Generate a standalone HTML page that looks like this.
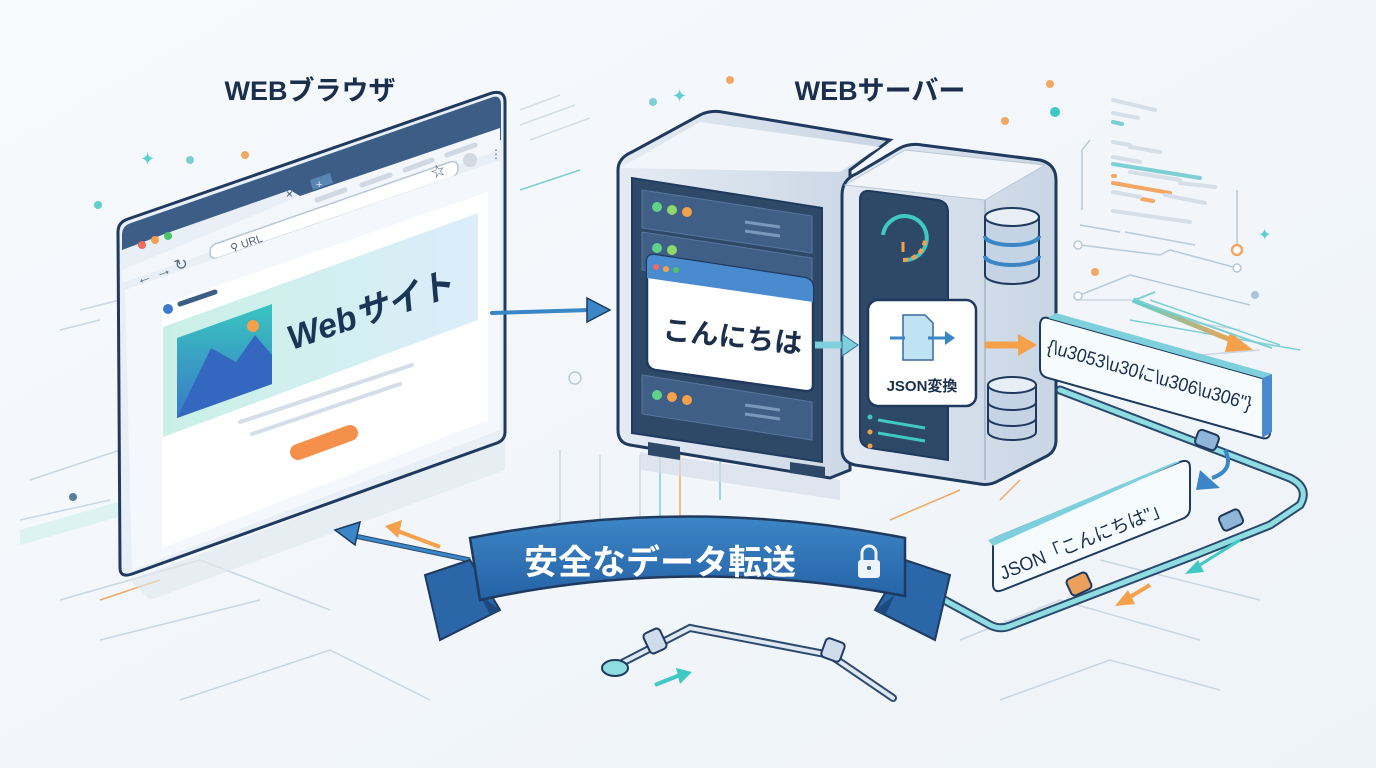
<!DOCTYPE html>
<html><head><meta charset="utf-8"><style>
html,body{margin:0;padding:0;background:#f3f7fb;}
svg{display:block}
text{font-family:"Liberation Sans","Noto Sans CJK JP",sans-serif;}
</style></head><body>
<svg width="1376" height="768" viewBox="0 0 1376 768" xmlns="http://www.w3.org/2000/svg">
<defs>
<linearGradient id="bg" x1="0" y1="0" x2="1" y2="1"><stop offset="0" stop-color="#f7fafd"/><stop offset="1" stop-color="#eef3f8"/></linearGradient>
<linearGradient id="ban" x1="0" y1="0" x2="1" y2="0"><stop offset="0" stop-color="#c9f0e6"/><stop offset="1" stop-color="#dbeefa"/></linearGradient>
<linearGradient id="img" x1="0" y1="0" x2="0" y2="1"><stop offset="0" stop-color="#39c6c0"/><stop offset="1" stop-color="#3a78c8"/></linearGradient>
<linearGradient id="rib" x1="0" y1="0" x2="0" y2="1"><stop offset="0" stop-color="#3d86c6"/><stop offset="1" stop-color="#2462a6"/></linearGradient>
<linearGradient id="case" x1="0" y1="0" x2="1" y2="0"><stop offset="0" stop-color="#e4ebf3"/><stop offset="1" stop-color="#c8d5e4"/></linearGradient>
<linearGradient id="ogr" x1="0" y1="0" x2="1" y2="0"><stop offset="0" stop-color="#5fd0d0"/><stop offset="1" stop-color="#f5a04a"/></linearGradient>
</defs>
<rect width="1376" height="768" fill="url(#bg)"/>

<g fill="none" stroke="#c9d6e3" stroke-width="1.5">
<path d="M30 480 L120 450 M20 520 L110 500 M60 600 L200 560 L330 610 M100 640 L260 600 M180 700 L330 650 L430 700"/>
<path d="M560 450 L560 520 L480 560 M600 455 L600 540 M640 455 L640 520 L560 560"/>
<path d="M960 640 L1060 600 L1200 640 M1000 700 L1110 660 L1220 690 M1100 560 L1260 600"/>
<path d="M1080 300 L1130 300 L1180 320 L1240 330 M1075 340 L1140 360 L1260 350"/>
<path d="M520 110 L560 95 M520 125 L575 105 M530 140 L590 118" stroke="#d3dde8"/>
<path d="M80 310 L120 300 M60 330 L100 320"/>
</g>
<g fill="none" stroke="#7ccfd3" stroke-width="1.5">
<path d="M660 455 L660 540 L600 570 M720 455 L720 500 M520 190 L580 170"/>
<path d="M1130 320 L1300 350"/>
<path d="M1150 300 L1280 345"/>
</g>
<g fill="none" stroke="#f2a763" stroke-width="1.5">
<path d="M680 455 L680 520 L630 545 M1000 500 L1020 480 M890 520 L960 490 M100 600 L160 580"/>
</g>
<g stroke-linecap="round" stroke-width="4">
<path d="M1113 100 L1155 110 M1113 113 L1138 118" stroke="#d6dee8"/>
<path d="M1113 122 L1122 124" stroke="#7ccfd3"/>
<path d="M1113 142 L1130 145 M1130 147 L1160 152 M1113 157 L1140 162" stroke="#d6dee8"/>
<path d="M1113 164 L1200 178" stroke="#7ccfd3"/>
<path d="M1113 176 L1115 176 M1113 183 L1170 193 M1142 199 L1153 201" stroke="#f2a763"/>
<path d="M1130 172 L1180 180 M1180 183 L1215 187 M1113 192 L1140 197 M1165 195 L1205 203 M1113 211 L1190 222" stroke="#d6dee8"/>
</g>
<g fill="none" stroke="#b7c9da" stroke-width="1.5">
<path d="M1090 140 L1082 150 L1082 210 M1237 190 L1237 245 M1080 225 L1120 232 M1125 232 L1195 245"/>
<path d="M1080 245 L1160 255 L1170 250 L1237 268"/>
<path d="M1080 295 L1130 275 L1250 305"/>
</g>
<circle cx="1237" cy="250" r="5" fill="#fff" stroke="#f2a763" stroke-width="2.5"/>
<circle cx="1237" cy="268" r="4" fill="#fff" stroke="#b7c9da" stroke-width="1.5"/>
<circle cx="1078" cy="245" r="4" fill="#fff" stroke="#b7c9da" stroke-width="1.5"/>
<circle cx="1078" cy="296" r="4" fill="#fff" stroke="#b7c9da" stroke-width="1.5"/>
<path d="M1133 300 L1238 343" stroke="url(#ogr)" stroke-width="5" fill="none"/>
<path d="M1230 332 L1253 350 L1225 352 Z" fill="#f5a04a"/>
<path d="M1155 292 L1135 300 L1272 348" stroke="#7ccfd3" stroke-width="2" fill="none"/>
<g>
<circle cx="98" cy="205" r="4" fill="#5fd0d0"/><circle cx="190" cy="160" r="4" fill="#7ccfd3"/><circle cx="245" cy="155" r="4" fill="#f2a763"/>
<circle cx="1050" cy="84" r="4" fill="#f2a763"/><circle cx="1055" cy="112" r="5" fill="#3fc9c4"/><circle cx="1005" cy="121" r="4" fill="#f2a763"/>
<circle cx="1095" cy="272" r="4" fill="#f2a763"/><circle cx="1255" cy="295" r="4" fill="#a9c3dd"/><circle cx="730" cy="80" r="4" fill="#f2a763"/><circle cx="653" cy="102" r="4" fill="#7ccfd3"/>
<circle cx="575" cy="378" r="6" fill="none" stroke="#b7c9da" stroke-width="1.5"/>
<circle cx="73" cy="497" r="4" fill="#5b7da0"/>
</g>
<text x="140" y="165" fill="#5fd0d0" font-size="18">✦</text>
<text x="672" y="102" fill="#5fd0d0" font-size="18">✦</text>
<text x="1258" y="240" fill="#5fd0d0" font-size="16">✦</text>
<path d="M20 530 L160 490 L160 505 L20 545 Z" fill="#d6f1ef" opacity=".8"/>

<text x="310" y="100" font-size="27" font-weight="bold" fill="#1b2f4d" text-anchor="middle">WEBブラウザ</text>
<text x="880" y="100" font-size="27" font-weight="bold" fill="#1b2f4d" text-anchor="middle">WEBサーバー</text>

<!-- BROWSER -->
<path d="M130 580 L505 440 L505 470 L150 600 Z" fill="#dfe7ef" opacity=".6"/>
<path d="M118 232 Q118 222 128 219 L492 93 Q505 90 505 102 L505 432 Q505 440 497 443 L132 574 Q120 578 120 568 Z" fill="#e9eff6" stroke="#1f3a5e" stroke-width="3"/>
<path d="M122 235 Q122 226 131 223 L493 97 Q501 95 501 105 L501 140 L122 270 Z" fill="#3c5d85"/>
<path d="M170 232 L290 190 L300 196 L300 208 L122 270 L122 250 Z" fill="#e9eff6"/>
<path d="M300 196 L500 128 L500 150 L122 283 L122 270 Z" fill="#f3f6fa"/>
<path d="M310 180 L330 173 L333 183 L313 190 Z" fill="#5a86b4"/>
<text x="286" y="198" fill="#3a4f6a" font-size="12">×</text>
<text x="316" y="188" fill="#dfe9f4" font-size="11">+</text>
<circle cx="142" cy="245" r="4" fill="#ef6b5b"/><circle cx="155" cy="240" r="4" fill="#f5a04a"/><circle cx="168" cy="236" r="4" fill="#4fc36b"/>
<path d="M218 243 L450 162 Q458 160 458 168 Q458 176 450 178 L218 258 Q210 260 210 252 Q210 245 218 243 Z" fill="#fff" stroke="#b8c6d6" stroke-width="1.5"/>
<text x="232" y="252" fill="#4a5d76" font-size="11" transform="rotate(-19 232 252)">⚲ URL</text>
<text x="433" y="178" fill="#4a5d76" font-size="14" transform="rotate(-19 433 178)">☆</text>
<circle cx="470" cy="160" r="7" fill="#d1d9e2"/>
<text x="490" y="158" fill="#5a6a80" font-size="12">⋮</text>
<text x="138" y="285" fill="#5a6a80" font-size="16" transform="rotate(-19 138 285)">← → ↻</text>
<path d="M125 290 L500 160 L500 430 L132 570 Z" fill="#f4f7fb"/>
<path d="M162 305 L488 192 L488 420 L162 548 Z" fill="#fff"/>
<path d="M163 327 L478 213 L478 320 L163 437 Z" fill="url(#ban)"/>
<path d="M177 338 L272 304 L272 384 L177 418 Z" fill="url(#img)"/>
<path d="M177 418 L211 348 L236 362 L255 335 L272 355 L272 384 Z" fill="#3468c0"/>
<circle cx="253" cy="326" r="6" fill="#f5a04a"/>
<circle cx="168" cy="309" r="5" fill="#3a7ad0"/>
<path d="M180 304 L215 292" stroke="#3c5d85" stroke-width="5" stroke-linecap="round"/>
<path d="M317 200 L345 190 M362 185 L390 175 M405 170 L432 160 M447 155 L475 145" stroke="#cfd8e3" stroke-width="5" stroke-linecap="round"/>
<text x="292" y="350" font-size="34" font-weight="bold" font-style="italic" fill="#1b3556" transform="rotate(-19 292 350)">Webサイト</text>
<path d="M240 422 L412 365 M252 434 L400 384" stroke="#d4dde8" stroke-width="4" stroke-linecap="round"/>
<path d="M298 452 L350 433" stroke="#f5904a" stroke-width="16" stroke-linecap="round"/>

<path d="M492 313 L590 310" stroke="#3a86c6" stroke-width="4" stroke-linecap="round"/>
<path d="M587 298 L610 310 L587 322 Z" fill="#3a86c6" stroke="#1f3a5e" stroke-width="1.5"/>

<!-- SERVER left cabinet -->
<path d="M640 452 L840 480 L840 500 L640 470 Z" fill="#d6dee8" opacity=".7"/>
<path d="M618 170 Q618 158 632 152 L700 115 Q710 110 722 112 L890 140 L850 170 L850 470 L830 478 L630 445 Q618 443 618 430 Z" fill="url(#case)" stroke="#1f3a5e" stroke-width="3"/>
<path d="M620 168 L700 122 L880 147 L840 172 Z" fill="#f2f5f9"/>
<path d="M632 178 L822 208 L822 462 L632 433 Z" fill="#2e4868" stroke="#1f3a5e" stroke-width="2"/>
<g fill="#3f5f86" stroke="#56789f" stroke-width="1">
<path d="M642 190 L812 216 L812 253 L642 228 Z"/>
<path d="M642 232 L812 258 L812 295 L642 270 Z"/>
<path d="M642 375 L812 402 L812 440 L642 414 Z"/>
</g>
<circle cx="657" cy="207" r="5" fill="#5fd28a"/><circle cx="672" cy="210" r="5" fill="#8fd66a"/><circle cx="687" cy="212" r="5" fill="#f5a04a"/>
<circle cx="657" cy="248" r="5" fill="#5fd28a"/><circle cx="672" cy="250" r="5" fill="#8fd66a"/>
<circle cx="657" cy="395" r="5" fill="#5fd28a"/><circle cx="672" cy="397" r="5" fill="#f5a04a"/><circle cx="687" cy="400" r="5" fill="#f5a04a"/>
<path d="M745 222 L780 227 M745 231 L780 236 M745 405 L780 410 M745 414 L780 419" stroke="#7a98bb" stroke-width="3"/>
<path d="M648 442 L680 447 L680 460 L648 455 Z M790 462 L825 467 L825 478 L790 473 Z" fill="#2e4868"/>
<path d="M647 262 Q647 254 655 255 L805 278 Q813 280 813 288 L813 385 Q813 392 805 391 L655 370 Q647 368 647 360 Z" fill="#fff" stroke="#1f3a5e" stroke-width="2.5"/>
<path d="M647 262 Q647 254 655 255 L805 278 Q813 280 813 288 L813 302 L647 278 Z" fill="#4a8bd0"/>
<circle cx="656" cy="267" r="3" fill="#ef6b5b"/><circle cx="666" cy="269" r="3" fill="#f5a04a"/><circle cx="676" cy="270" r="3" fill="#4fc36b"/>
<text x="662" y="339" font-size="28" font-weight="bold" fill="#1b2f4d" transform="rotate(6 662 339)">こんにちは</text>
<!-- tower -->
<path d="M842 195 Q842 180 856 174 L900 148 Q910 143 922 145 L1040 160 Q1056 164 1056 180 L1056 440 Q1056 452 1045 457 L1000 480 Q990 486 980 484 L855 465 Q842 462 842 450 Z" fill="url(#case)" stroke="#1f3a5e" stroke-width="3"/>
<path d="M845 185 L905 150 L1045 165 L985 200 Z" fill="#f2f5f9" stroke="#b8c6d6" stroke-width="1"/>
<path d="M985 200 L985 480" stroke="#aebfd2" stroke-width="2"/>
<path d="M860 200 Q860 190 870 191 L938 200 Q948 202 948 212 L948 460 L870 448 Q860 446 860 436 Z" fill="#2e4868" stroke="#1f3a5e" stroke-width="2"/>
<path d="M883 235 A22 22 0 1 1 903 260" fill="none" stroke="#3fc9c4" stroke-width="4"/>
<path d="M903 260 A22 22 0 0 0 925 240" fill="none" stroke="#f5a04a" stroke-width="4" stroke-dasharray="5 4"/>
<path d="M903 242 L903 252" stroke="#f5a04a" stroke-width="3"/>
<path d="M878 420 L925 428 M878 433 L925 441" stroke="#3fc9c4" stroke-width="3"/>
<circle cx="870" cy="417" r="2.5" fill="#3fc9c4"/><circle cx="870" cy="432" r="2.5" fill="#f5a04a"/><circle cx="870" cy="446" r="2.5" fill="#f5a04a"/>
<g stroke="#1f3a5e" stroke-width="2">
<path d="M985 217 L985 275 A27 9 0 0 0 1039 275 L1039 217 Z" fill="#c5d4e4"/>
<ellipse cx="1012" cy="217" rx="27" ry="9" fill="#e7eef6"/>
<path d="M985 236 A27 9 0 0 0 1039 236 M985 256 A27 9 0 0 0 1039 256" fill="none" stroke="#3a86c6" stroke-width="4"/>
<path d="M988 385 L988 432 A24 8 0 0 0 1036 432 L1036 385 Z" fill="#c5d4e4"/>
<ellipse cx="1012" cy="385" rx="24" ry="8" fill="#e7eef6"/>
<path d="M988 402 A24 8 0 0 0 1036 402 M988 418 A24 8 0 0 0 1036 418" fill="none"/>
</g>
<rect x="868" y="300" width="108" height="106" rx="10" fill="#fff" stroke="#1f3a5e" stroke-width="2.5"/>
<path d="M903 315 L925 315 L933 323 L933 360 L903 360 Z" fill="#bfe3f3" stroke="#3a6a9a" stroke-width="1.5"/>
<path d="M890 338 L905 338 M928 338 L948 338" stroke="#3a86c6" stroke-width="3"/>
<path d="M945 331 L955 338 L945 345 Z" fill="#3a86c6"/>
<text x="922" y="391" font-size="15" font-weight="bold" fill="#1b2f4d" text-anchor="middle">JSON変換</text>
<path d="M815 345 L843 345" stroke="#7fd0dd" stroke-width="7"/>
<path d="M842 334 L858 345 L842 356 Z" fill="#7fd0dd" stroke="#3a6a9a" stroke-width="1"/>
<path d="M985 345 L1020 345" stroke="#f5a04a" stroke-width="7"/>
<path d="M1018 334 L1037 345 L1018 356 Z" fill="#f5a04a"/>

<!-- JSON string box -->
<path d="M1048 318 L1262 378 Q1270 380 1270 388 L1270 432 Q1270 440 1262 438 L1048 378 Q1040 376 1040 368 L1040 326 Q1040 316 1048 318 Z" fill="#f6fbfe" stroke="#1f3a5e" stroke-width="2"/>
<path d="M1262 378 L1272 374 L1272 432 L1262 438 Z" fill="#4a8bd0"/>
<path d="M1048 318 L1056 313 L1272 374 L1262 378 Z" fill="#7fd0dd"/>
<text x="1046" y="352" font-size="19" fill="#1b2f4d" textLength="212" lengthAdjust="spacingAndGlyphs" transform="rotate(16 1046 352)">{\u3053\u30に\u306\u306"}</text>

<path d="M935 595 L990 625 Q1000 630 1010 626 L1195 555 M1060 390 L1290 478 Q1310 488 1300 505 L1270 525 L1195 555" fill="none" stroke="#2a4a6e" stroke-width="9" stroke-linecap="round"/>
<path d="M935 595 L990 625 Q1000 630 1010 626 L1195 555 M1060 390 L1290 478 Q1310 488 1300 505 L1270 525 L1195 555" fill="none" stroke="#8fdde0" stroke-width="5" stroke-linecap="round"/>
<rect x="1196" y="432" width="22" height="16" rx="4" fill="#8fb6d8" stroke="#1f3a5e" stroke-width="2" transform="rotate(20 1207 440)"/>
<rect x="1220" y="512" width="22" height="16" rx="4" fill="#8fb6d8" stroke="#1f3a5e" stroke-width="2" transform="rotate(-25 1231 520)"/>
<rect x="1068" y="575" width="22" height="18" rx="4" fill="#eaa05a" stroke="#1f3a5e" stroke-width="2" transform="rotate(-25 1079 584)"/>
<path d="M1225 450 Q1235 470 1212 478" fill="none" stroke="#3a86c6" stroke-width="4"/>
<path d="M1200 470 L1220 488 L1196 490 Z" fill="#3a86c6"/>
<path d="M995 538 L1180 462 Q1190 458 1190 468 L1190 508 Q1190 516 1182 519 L1003 590 Q993 594 993 584 L993 546 Q993 541 995 538 Z" fill="#f6fbfe" stroke="#1f3a5e" stroke-width="2"/>
<path d="M993 546 L988 540 L1175 462 L1180 462 Z" fill="#7fd0dd"/>
<text x="1003" y="580" font-size="19" fill="#1b2f4d" textLength="180" lengthAdjust="spacingAndGlyphs" transform="rotate(-22 1003 580)">JSON「こんにちは"」</text>
<path d="M1240 540 L1195 568" stroke="#3fc9c4" stroke-width="3"/><path d="M1198 560 L1185 574 L1204 572 Z" fill="#3fc9c4"/>
<path d="M1150 585 L1125 600" stroke="#f5a04a" stroke-width="4"/><path d="M1128 590 L1115 606 L1135 604 Z" fill="#f5a04a"/>

<!-- lower pipe -->
<path d="M612 668 L690 628 L830 655 L893 698" fill="none" stroke="#2a4a6e" stroke-width="8" stroke-linecap="round"/>
<path d="M612 668 L690 628 L830 655 L893 698" fill="none" stroke="#dfe7f0" stroke-width="4" stroke-linecap="round"/>
<ellipse cx="615" cy="668" rx="13" ry="8" fill="#8fdde0" stroke="#1f3a5e" stroke-width="2"/>
<rect x="646" y="630" width="18" height="22" rx="4" fill="#cfdceb" stroke="#1f3a5e" stroke-width="2" transform="rotate(-25 655 641)"/>
<rect x="823" y="640" width="20" height="20" rx="4" fill="#cfdceb" stroke="#1f3a5e" stroke-width="2" transform="rotate(20 833 650)"/>
<path d="M655 685 L680 675" stroke="#3fc9c4" stroke-width="4"/><path d="M676 668 L692 672 L680 684 Z" fill="#3fc9c4"/>

<path d="M470 560 L350 535" stroke="#2a4a6e" stroke-width="5"/>
<path d="M470 560 L350 535" stroke="#3a86c6" stroke-width="3"/>
<path d="M335 530 L360 522 L355 545 Z" fill="#3a86c6" stroke="#1f3a5e" stroke-width="1.5"/>
<path d="M440 547 L395 530" stroke="#f5a04a" stroke-width="4"/><path d="M385 526 L402 520 L398 538 Z" fill="#f5a04a"/>

<path d="M470 560 L425 575 L440 640 L500 610 Z" fill="#2b66a8" stroke="#1f3a5e" stroke-width="2"/>
<path d="M905 560 L950 575 L935 640 L875 610 Z" fill="#2b66a8" stroke="#1f3a5e" stroke-width="2"/>
<path d="M500 610 L480 595 L490 615 Z M875 610 L895 595 L885 615 Z" fill="#1a4a80"/>
<path d="M470 538 Q688 495 905 538 L905 596 Q688 555 480 600 Z" fill="url(#rib)" stroke="#1f3a5e" stroke-width="2.5"/>
<text x="660" y="574" font-size="34" font-weight="bold" fill="#fff" text-anchor="middle">安全なデータ転送</text>
<rect x="858" y="560" width="22" height="18" rx="3" fill="#eef4fa"/>
<path d="M862 561 L862 553 A7 7 0 0 1 876 553 L876 561" fill="none" stroke="#eef4fa" stroke-width="3"/>
<circle cx="869" cy="568" r="2" fill="#2b66a8"/>
</svg>
</body></html>
